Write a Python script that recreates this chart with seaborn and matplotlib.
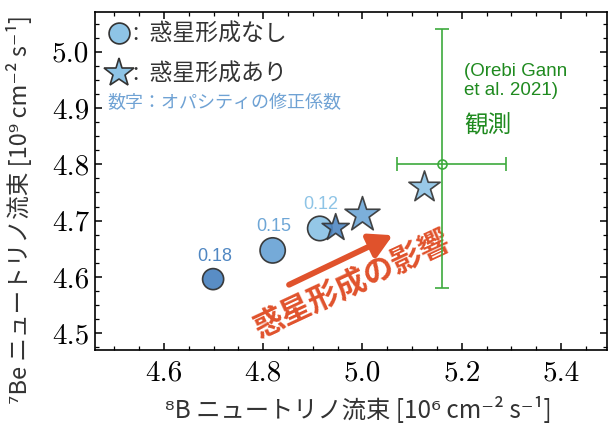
import numpy as np
import pandas as pd
import matplotlib
matplotlib.use('Agg')
import matplotlib.pyplot as plt
from matplotlib.lines import Line2D
from matplotlib.ticker import MultipleLocator
import seaborn as sns

# 値
opacity = ['0.18', '0.15', '0.12']
b8_noplanet = [4.699, 4.819, 4.914]
be7_noplanet = [4.596, 4.647, 4.686]
b8_planet = [4.946, 5.000, 5.125]
be7_planet = [4.687, 4.710, 4.759]

# 観測 (Orebi Gann et al. 2021)
obs_b8 = 5.16
obs_be7 = 4.80
obs_b8_err = [[0.09], [0.13]]
obs_be7_err = [[0.22], [0.24]]

colors = {'0.18': '#5087c2', '0.15': '#6ea6d6', '0.12': '#8ec4e6'}

df = pd.DataFrame({
    'b8': b8_noplanet + b8_planet,
    'be7': be7_noplanet + be7_planet,
    'opacity': opacity * 2,
    'planet': ['なし'] * 3 + ['あり'] * 3,
})

sns.set_theme(style='ticks')
plt.rcParams['font.family'] = ['Noto Sans CJK JP', 'DejaVu Sans']

fig = plt.figure(figsize=(6.08, 4.24), dpi=100)
ax = fig.add_axes([94.7 / 608, 74 / 424, 512.3 / 608, 338 / 424])

circ_sizes = [230, 330, 310]
star_sizes = [420, 700, 560]

# 惑星形成なし
d0 = df[df['planet'] == 'なし']
sns.scatterplot(data=d0, x='b8', y='be7', hue='opacity', palette=colors,
                size='opacity', sizes=dict(zip(opacity, circ_sizes)),
                marker='o', edgecolor='#333333', linewidth=1.2,
                alpha=0.95, legend=False, ax=ax, zorder=3)
# 惑星形成あり
d1 = df[df['planet'] == 'あり']
sns.scatterplot(data=d1, x='b8', y='be7', hue='opacity', palette=colors,
                size='opacity', sizes=dict(zip(opacity, star_sizes)),
                marker='*', edgecolor='#333333', linewidth=1.2,
                alpha=0.9, legend=False, ax=ax, zorder=4)

# オパシティ係数のラベル
for o, x, y in zip(opacity, b8_noplanet, be7_noplanet):
    ax.annotate(o, (x, y), xytext=(1, 16 if o == '0.18' else 17.5),
                textcoords='offset points', ha='center', va='center',
                fontsize=13, color=colors[o], family=['Liberation Sans', 'DejaVu Sans'])

# 観測
ax.errorbar(obs_b8, obs_be7, xerr=obs_b8_err, yerr=obs_be7_err, fmt='o',
            mfc='none', mec='#3daa3d', ms=6.5, mew=1.2, color='#3daa3d',
            elinewidth=1.2, capsize=5, capthick=1.2, zorder=2)
ax.text(5.205, 4.98, '(Orebi Gann\net al. 2021)', color='#1f8a1f',
        fontsize=13.5, va='top', ha='left', linespacing=1.15,
        family=['Liberation Sans', 'DejaVu Sans'])
ax.text(5.205, 4.868, '観測', color='#1f8a1f', fontsize=17, va='center', ha='left')

# 惑星形成の影響
ax.annotate('', xy=(5.061, 4.674), xytext=(4.852, 4.586),
            arrowprops=dict(arrowstyle='-|>,head_length=0.9,head_width=0.5',
                            lw=4.2, color='#e0522c', mutation_scale=15,
                            shrinkA=0, shrinkB=0), zorder=1)
ax.text(4.979, 4.5874, '惑星形成の影響', color='#e0522c', fontsize=22,
        fontweight='bold', rotation=25, ha='center', va='center',
        rotation_mode='anchor', zorder=1)

# 凡例
handles = [
    Line2D([], [], ls='none', marker='o', ms=15, mfc='#8ec4e6',
           mec='#333333', mew=1.2),
    Line2D([], [], ls='none', marker='*', ms=22, mfc='#8ec4e6',
           mec='#333333', mew=1.2),
]
leg = ax.legend(handles, [':  惑星形成なし', ':  惑星形成あり'], loc='upper left',
                bbox_to_anchor=(-0.008, 1.015), frameon=False, fontsize=16.5,
                handlelength=1.1, handletextpad=0.05, labelspacing=0.75,
                borderaxespad=0.3)
for t in leg.get_texts():
    t.set_color('#333333')
ax.text(0.024, 0.731, '数字：オパシティの修正係数', transform=ax.transAxes,
        color='#6fa2d4', fontsize=13, va='center', ha='left')

ax.set_xlim(4.4604, 5.4927)
ax.set_ylim(4.4701, 5.0705)
ax.xaxis.set_major_locator(MultipleLocator(0.2))
ax.xaxis.set_minor_locator(MultipleLocator(0.05))
ax.yaxis.set_major_locator(MultipleLocator(0.1))
ax.yaxis.set_minor_locator(MultipleLocator(0.025))
ax.tick_params(which='both', direction='in', top=True, right=True,
               colors='black', labelfontfamily='cmr10', labelsize=21)
ax.tick_params(which='major', length=5, width=1.1)
ax.tick_params(which='minor', length=2.8, width=0.9)
ax.tick_params(axis='x', pad=7)
ax.tick_params(axis='y', pad=4)
for s in ax.spines.values():
    s.set_linewidth(1.2)
    s.set_color('black')

ax.set_xlabel('⁸B ニュートリノ流束 [10⁶ cm⁻² s⁻¹]', fontsize=17.5, color='#333333')
ax.xaxis.set_label_coords(0.515, -0.14)
ax.set_ylabel('⁷Be ニュートリノ流束 [10⁹ cm⁻² s⁻¹]', fontsize=17, color='#333333')
ax.yaxis.set_label_coords(-0.122, 0.415)

fig.savefig('out.png', dpi=100)
